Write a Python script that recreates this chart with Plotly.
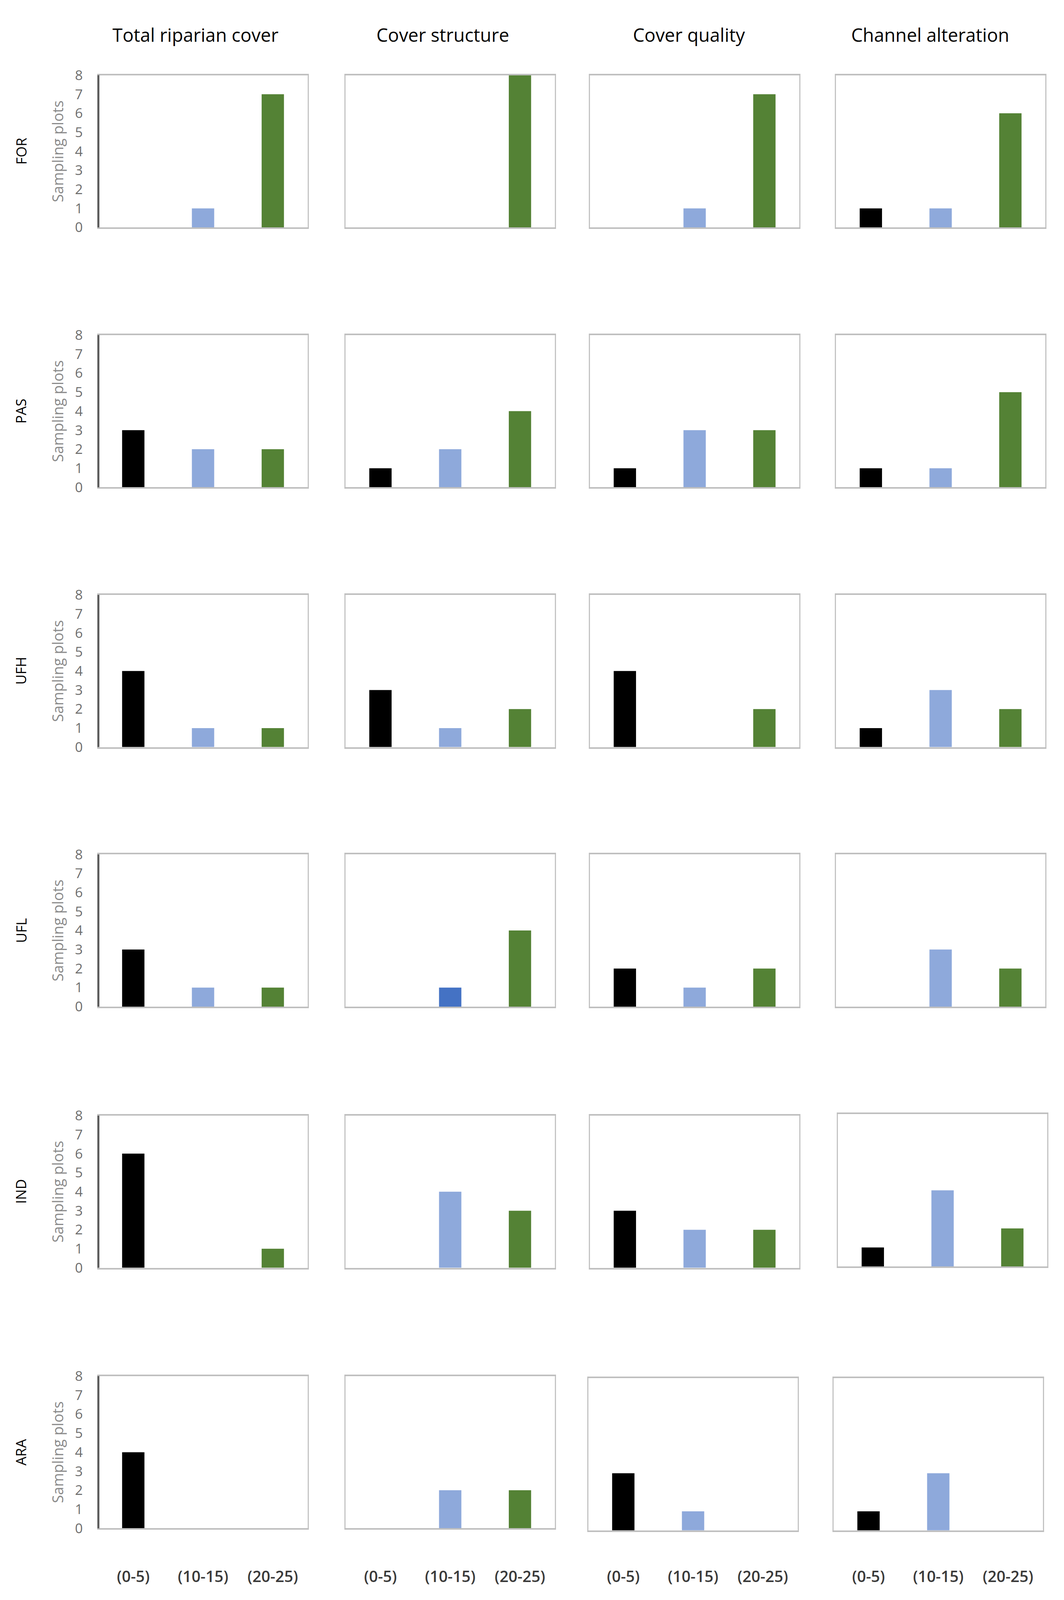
import plotly.graph_objects as go
from plotly.subplots import make_subplots

# ---------------- data ----------------
CLASSES = ["(0-5)", "(10-15)", "(20-25)"]
METRICS = ["Total riparian cover", "Cover structure", "Cover quality", "Channel alteration"]
LAND_USES = ["FOR", "PAS", "UFH", "UFL", "IND", "ARA"]
Y_TICKS = [0, 1, 2, 3, 4, 5, 6, 7, 8]
Y_TITLE = "Sampling plots"

# sampling plots per class; one inner list per metric (order of METRICS)
FOR = [[0, 1, 7], [0, 0, 8], [0, 1, 7], [1, 1, 6]]
PAS = [[3, 2, 2], [1, 2, 4], [1, 3, 3], [1, 1, 5]]
UFH = [[4, 1, 1], [3, 1, 2], [4, 0, 2], [1, 3, 2]]
UFL = [[3, 1, 1], [0, 1, 4], [2, 1, 2], [0, 3, 2]]
IND = [[6, 0, 1], [0, 4, 3], [3, 2, 2], [1, 4, 2]]
ARA = [[4, 0, 0], [0, 2, 2], [3, 1, 0], [1, 3, 0]]
ROWS = [FOR, PAS, UFH, UFL, IND, ARA]

# ---------------- style / layout ----------------
CLASS_COLORS = ["#000000", "#8EA9DB", "#548235"]
SPECIAL_COLORS = {(3, 1, 1): "#4472C4"}   # (row, col, class) -> colour

# reference design grid (pixels of a 2725 x 4687 sheet), mapped to paper fractions
W_REF, H_REF = 2725, 4687
FIG_W, FIG_H = 2725, 4096          # visible browser viewport
VSCALE = FIG_H / H_REF
COL_LEFT = [252, 885, 1511, 2141]
COL_W = 536
ROW_TOP = [194, 964, 1734, 2503, 3277, 4049]
ROW_H = 451
CELL_SHIFT = {(4, 3): (5, -4), (5, 2): (-4, 6), (5, 3): (-6, 6)}
TITLE_X = [500, 1134, 1764, 2382]
TITLE_Y = 74
XLABEL_Y = 4632
ROWLABEL_X = 54
FONT = "Open Sans"

fig = make_subplots(rows=6, cols=4)

shapes = []
annotations = []
layout_axes = {}

for r in range(6):
    for c in range(4):
        idx = r * 4 + c + 1
        vals = ROWS[r][c]
        colors = [SPECIAL_COLORS.get((r, c, k), CLASS_COLORS[k]) for k in range(3)]
        fig.add_trace(
            go.Bar(x=CLASSES, y=vals, marker=dict(color=colors, line=dict(width=0)),
                   showlegend=False, hoverinfo="x+y"),
            row=r + 1, col=c + 1,
        )
        dx, dy = CELL_SHIFT.get((r, c), (0, 0))
        left = COL_LEFT[c] + dx
        top = ROW_TOP[r] + dy
        bottom = top + ROW_H
        xd = [left / W_REF, (left + COL_W) / W_REF]
        yd = [1 - bottom / H_REF, 1 - top / H_REF]
        sfx = "" if idx == 1 else str(idx)
        bottom_row = (r == 5)
        xa = dict(
            domain=xd, type="category", range=[-0.5, 2.5],
            showline=True, linecolor="#BFBFBF", linewidth=4, mirror=True,
            showgrid=False, zeroline=False,
            showticklabels=bottom_row,
            ticks="outside" if bottom_row else "",
            ticklen=max(1, round((XLABEL_Y - bottom - 34) * VSCALE)),
            tickcolor="rgba(0,0,0,0)",
            tickfont=dict(family=FONT, size=40, color="#3A3A3A", weight=600),
        )
        ya = dict(
            domain=yd, range=[0, 8], tickvals=Y_TICKS,
            showline=True, linecolor="#C4C4C4", linewidth=3, mirror=True,
            showgrid=False, zeroline=False,
            showticklabels=(c == 0),
            ticks="outside" if c == 0 else "",
            ticklen=30, tickcolor="rgba(0,0,0,0)",
            tickfont=dict(family=FONT, size=35, color="#6E6E6E"),
        )
        if c == 0:
            ya["title"] = dict(text=Y_TITLE, standoff=18,
                               font=dict(family=FONT, size=38, color="#8A8A8A"))
            shapes.append(dict(type="line", xref=f"x{sfx} domain", yref=f"y{sfx} domain",
                               x0=0, x1=0, y0=0, y1=1,
                               line=dict(color="#595959", width=5)))
        layout_axes[f"xaxis{sfx}"] = xa
        layout_axes[f"yaxis{sfx}"] = ya

    annotations.append(dict(
        text=LAND_USES[r], xref="paper", yref="paper",
        x=ROWLABEL_X / W_REF, y=1 - (ROW_TOP[r] + ROW_H / 2) / H_REF,
        textangle=-90, showarrow=False, xanchor="center", yanchor="middle",
        font=dict(family=FONT, size=36, color="#000000"),
    ))

for c, m in enumerate(METRICS):
    annotations.append(dict(
        text=m, xref="paper", yref="paper", x=TITLE_X[c] / W_REF, y=1 - TITLE_Y / H_REF,
        showarrow=False, xanchor="center", yanchor="middle",
        font=dict(family=FONT, size=47, color="#000000"),
    ))

fig.update_layout(
    width=FIG_W, height=FIG_H,
    margin=dict(l=0, r=0, t=0, b=0),
    paper_bgcolor="white", plot_bgcolor="white",
    bargap=0.68,
    shapes=shapes, annotations=annotations,
    font=dict(family=FONT),
    **layout_axes,
)

NO_MARGIN = "document.body.style.margin='0';document.body.style.overflow='hidden';"

fig.write_html("out.html", post_script=NO_MARGIN, config={"displayModeBar": False})
